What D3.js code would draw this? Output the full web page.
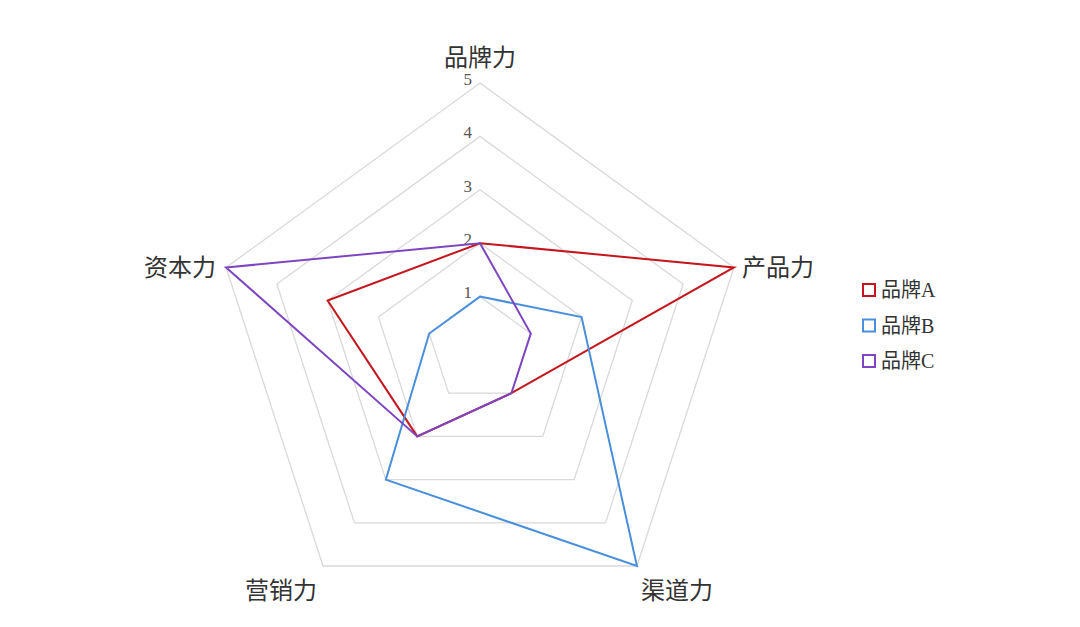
<!DOCTYPE html>
<html>
<head>
<meta charset="utf-8">
<script src="https://cdn.jsdelivr.net/npm/d3@7"></script>
<style>
  body { margin: 0; background: #fff; }
  text { font-family: "Liberation Serif", "Noto Sans CJK SC", serif; fill: #333; }
</style>
</head>
<body>
<div id="chart"></div>
<script>
// axes, clockwise from the top
const dimensions = ["品牌力", "产品力", "渠道力", "营销力", "资本力"];
const levels = [1, 2, 3, 4, 5];
const seriesNames = ["品牌A", "品牌B", "品牌C"];
const brandA = [2, 5, 1, 2, 3];
const brandB = [1, 2, 5, 3, 1];
const brandC = [2, 1, 1, 2, 5];
const colors = ["#c4161c", "#4a8fdb", "#7d46c0"];

const width = 1080, height = 627;
const cx = 480, cy = 350, radius = 267;

const svg = d3.select("#chart").append("svg")
    .attr("width", width)
    .attr("height", height);

const r = d3.scaleLinear().domain([0, 5]).range([0, radius]);
const angle = d3.scaleLinear().domain([0, dimensions.length]).range([0, 2 * Math.PI]);

const g = svg.append("g").attr("transform", `translate(${cx},${cy})`);

// point on axis i at value v
function pt(i, v) {
    const a = angle(i);
    return [r(v) * Math.sin(a), -r(v) * Math.cos(a)];
}

// pentagon grid
const radar = d3.line().curve(d3.curveLinearClosed);
g.append("g")
    .selectAll("path")
    .data(levels)
    .join("path")
    .attr("d", lv => radar(dimensions.map((d, i) => pt(i, lv))))
    .attr("fill", "none")
    .attr("stroke", "#d9d9d9")
    .attr("stroke-width", 1.3);

// tick labels on the top axis
g.append("g")
    .selectAll("text")
    .data(levels)
    .join("text")
    .attr("x", -8)
    .attr("y", lv => -r(lv))
    .attr("dy", "0.1em")
    .attr("text-anchor", "end")
    .attr("font-size", 17)
    .style("fill", "#555")
    .text(d => d);

// axis labels
const labelPos = [
    { dx: 0, dy: -25, anchor: "middle" },
    { dx: 8, dy: 0, anchor: "start" },
    { dx: 40, dy: 25, anchor: "middle" },
    { dx: -42, dy: 25, anchor: "middle" },
    { dx: -10, dy: 0, anchor: "end" }
];
g.append("g")
    .selectAll("text")
    .data(dimensions)
    .join("text")
    .attr("x", (d, i) => pt(i, 5)[0] + labelPos[i].dx)
    .attr("y", (d, i) => pt(i, 5)[1] + labelPos[i].dy)
    .attr("dy", "0.35em")
    .attr("text-anchor", (d, i) => labelPos[i].anchor)
    .attr("font-size", 24)
    .text(d => d);

// series
const series = [brandA, brandB, brandC];
g.append("g")
    .selectAll("path")
    .data(series)
    .join("path")
    .attr("d", vals => radar(vals.map((v, i) => pt(i, v))))
    .attr("fill", "none")
    .attr("stroke", (d, i) => colors[i])
    .attr("stroke-width", 2)
    .attr("stroke-linejoin", "miter");

// legend
const legend = svg.append("g").attr("transform", "translate(862,290)");
const item = legend.selectAll("g")
    .data(seriesNames)
    .join("g")
    .attr("transform", (d, i) => `translate(0,${i * 35.5})`);
item.append("rect")
    .attr("x", 1)
    .attr("y", -6)
    .attr("width", 12)
    .attr("height", 12)
    .attr("fill", "#fff")
    .attr("stroke", (d, i) => colors[i])
    .attr("stroke-width", 2);
item.append("text")
    .attr("x", 19)
    .attr("dy", "0.35em")
    .attr("font-size", 20)
    .text(d => d);
</script>
</body>
</html>
